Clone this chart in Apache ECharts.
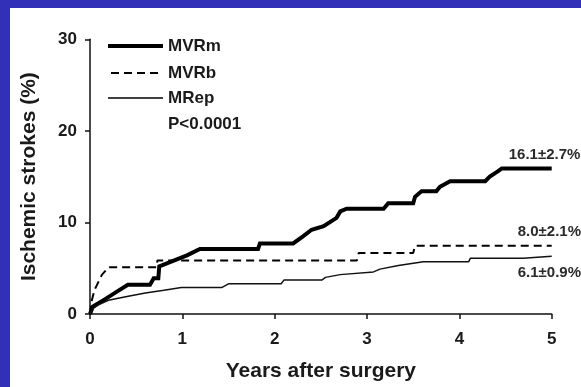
<!DOCTYPE html>
<html>
<head>
<meta charset="utf-8">
<script src="https://cdn.jsdelivr.net/npm/echarts@6/dist/echarts.min.js"></script>
<style>
html,body{margin:0;padding:0;background:#3230b9;}
#chart{width:581px;height:387px;}
</style>
</head>
<body>
<div id="chart"></div>
<script>
// ---- data (years after surgery, % ischemic strokes) ----
var seriesNames = ['MVRm', 'MVRb', 'MRep'];
var mvrm = [[0,0],[0.03,0.8],[0.16,1.6],[0.3,2.5],[0.41,3.2],[0.65,3.2],[0.69,3.9],[0.74,3.9],[0.75,5.2],[0.9,5.8],[1.05,6.4],[1.19,7.1],[1.82,7.1],[1.84,7.7],[2.2,7.7],[2.31,8.5],[2.4,9.2],[2.53,9.6],[2.67,10.5],[2.71,11.2],[2.78,11.5],[3.18,11.5],[3.23,12.1],[3.5,12.1],[3.52,12.8],[3.59,13.4],[3.75,13.4],[3.79,13.9],[3.9,14.5],[4.28,14.5],[4.33,15.0],[4.42,15.6],[4.46,15.9],[5.0,15.9]];
var mvrb = [[0,0],[0.02,1.5],[0.05,2.65],[0.13,4.3],[0.2,5.1],[0.72,5.1],[0.73,5.85],[2.89,5.85],[2.91,6.65],[3.5,6.65],[3.52,7.45],[5.0,7.45]];
var mrep = [[0,0],[0.03,0.6],[0.09,1.0],[0.2,1.5],[0.4,1.9],[0.6,2.3],[0.8,2.6],[0.99,2.9],[1.43,2.9],[1.5,3.3],[2.07,3.3],[2.1,3.7],[2.51,3.7],[2.55,4.0],[2.71,4.3],[3.07,4.6],[3.14,4.9],[3.34,5.3],[3.61,5.7],[4.1,5.7],[4.12,6.1],[4.69,6.1],[4.71,6.3],[5.0,6.3]];
var endLabels = ['16.1\u00b12.7%', '8.0\u00b12.1%', '6.1\u00b10.9%'];
var pValueText = 'P<0.0001';
var xTitle = 'Years after surgery';
var yTitle = 'Ischemic strokes (%)';

var FONT = 'Liberation Sans, Arial, sans-serif';
var TXT = '#1a1a1a';
var lineWidths = [4, 2, 1.5];
var lineDash = [null, [8,5], null];
var chart = echarts.init(document.getElementById('chart'), null, {renderer:'canvas'});

function lbl(text, dx, dy) {
  return {show:true, formatter:text, offset:[dx,dy], fontFamily:FONT, fontWeight:'bold', fontSize:15, color:'#2a2a2a', align:'left', verticalAlign:'middle', distance:8};
}

// legend drawn as graphic (line sample + text)
var legendRowsY = [46, 73, 98];
var graphics = [{type:'rect', z:-100, shape:{x:10,y:8,width:600,height:400}, style:{fill:'#ffffff'}}];
seriesNames.forEach(function(n, i){
  graphics.push({type:'line', shape:{x1: i===1 ? 111 : 108, y1:legendRowsY[i], x2:163, y2:legendRowsY[i]},
    style:{stroke:'#000', lineWidth:lineWidths[i], lineDash:lineDash[i] || null}});
  graphics.push({type:'text', x:168, y:legendRowsY[i], style:{text:n, font:'bold 17px ' + FONT, fill:TXT, textVerticalAlign:'middle', verticalAlign:'middle'}});
});
graphics.push({type:'text', x:168, y:124, style:{text:pValueText, font:'bold 17px ' + FONT, fill:TXT, textVerticalAlign:'middle', verticalAlign:'middle'}});

chart.setOption({
  animation:false,
  backgroundColor:'#3230b9',
  graphic:graphics,
  grid:{left:90, right:29.3, top:39.3, bottom:72.7},
  xAxis:{
    type:'value', min:0, max:5, interval:1,
    name:xTitle, nameLocation:'middle', nameGap:47,
    nameTextStyle:{fontFamily:FONT, fontWeight:'bold', fontSize:21, color:TXT},
    axisLine:{show:true, lineStyle:{color:'#111', width:1.5}},
    axisTick:{show:true, inside:false, length:5, lineStyle:{color:'#111', width:1.5}},
    axisLabel:{fontFamily:FONT, fontWeight:'bold', fontSize:17, color:TXT, margin:17},
    splitLine:{show:false}
  },
  yAxis:{
    type:'value', min:0, max:30, interval:10,
    name:yTitle, nameLocation:'middle', nameGap:50, nameRotate:90,
    nameTextStyle:{fontFamily:FONT, fontWeight:'bold', fontSize:21, color:TXT},
    axisLine:{show:true, lineStyle:{color:'#111', width:1.5}},
    axisTick:{show:true, inside:false, length:5, lineStyle:{color:'#111', width:1.5}},
    axisLabel:{fontFamily:FONT, fontWeight:'bold', fontSize:17, color:TXT, margin:13},
    splitLine:{show:false}
  },
  series:[
    {name:seriesNames[0], type:'line', data:mvrm, symbol:'none', lineStyle:{color:'#000', width:lineWidths[0], join:'miter'}, itemStyle:{color:'#000'},
     endLabel:lbl(endLabels[0], -51, -13.5)},
    {name:seriesNames[1], type:'line', data:mvrb, symbol:'none', lineStyle:{color:'#000', width:lineWidths[1], type:lineDash[1]}, itemStyle:{color:'#000'},
     endLabel:lbl(endLabels[1], -42, -14.3)},
    {name:seriesNames[2], type:'line', data:mrep, symbol:'none', lineStyle:{color:'#111', width:lineWidths[2]}, itemStyle:{color:'#111'},
     endLabel:lbl(endLabels[2], -42, 16.8)}
  ]
});
</script>
</body>
</html>
